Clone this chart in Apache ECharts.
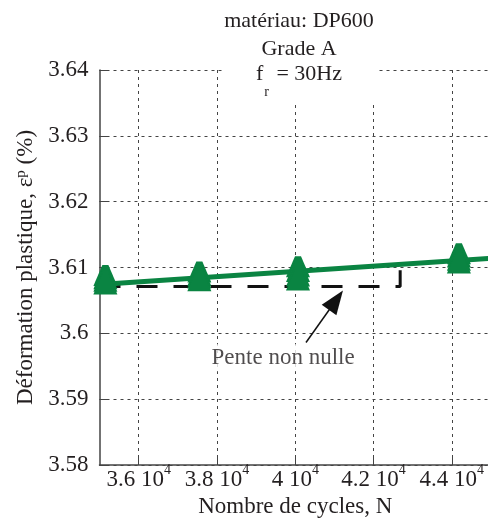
<!DOCTYPE html>
<html><head><meta charset="utf-8">
<script src="https://cdn.jsdelivr.net/npm/echarts@6/dist/echarts.min.js"></script>
<style>html,body{margin:0;padding:0;background:#fff}#c{width:488px;height:520px}</style>
</head><body><div id="c"></div>
<script>
// ---- data ----
const xTicks = [36000, 38000, 40000, 42000, 44000];
const xTickLabels = ['3.6', '3.8', '4', '4.2', '4.4'];
const groupCycles = [35150, 37550, 40070, 44180];
const strainRun1 = [3.6088, 3.6093, 3.6101, 3.6121];
const strainRun2 = [3.6083, 3.6088, 3.6094, 3.6116];
const strainRun3 = [3.6079, 3.6084, 3.6087, 3.6111];
const strainRun4 = [3.6075, 3.6080, 3.6081, 3.6107];
const fitCycles = [35000, 45000];
const fitStrain = [3.6074, 3.6114];
const refCycles = [35000, 42680, 42680];
const refStrain = [3.6071, 3.6071, 3.6103];
const arrowCycles = [40275, 41041];
const arrowStrain = [3.5986, 3.60502];
const noteCycles = [39690];
const noteStrain = [3.5963];
const noteText = 'Pente non nulle';

const FONT = 'Liberation Serif';
const TXT = '#231f20';
const GREEN = '#0a8442';
const AXF = 23;

const pts = [];
[strainRun1, strainRun2, strainRun3, strainRun4].forEach(run => {
  run.forEach((v, i) => pts.push([groupCycles[i], v]));
});

const chart = echarts.init(document.getElementById('c'), null, {renderer: 'canvas'});
chart.setOption({
  animation: false,
  backgroundColor: '#fff',
  title: {
    text: 'matériau: DP600\nGrade A\n{f|f}{sub|r}{t| = 30Hz}',
    left: 297, top: 7, textAlign: 'center',
    padding: [0, 5, 4, 2],
    backgroundColor: '#fff',
    textStyle: {
      fontFamily: FONT, fontSize: 22, fontWeight: 'normal', color: TXT, lineHeight: 28,
      rich: {
        f: {fontFamily: FONT, fontSize: 22, color: TXT, lineHeight: 28, verticalAlign: 'top'},
        t: {fontFamily: FONT, fontSize: 22, color: TXT, lineHeight: 28, verticalAlign: 'top', padding: [0, 0, 0, 2]},
        sub: {fontFamily: FONT, fontSize: 14, color: TXT, lineHeight: 14, padding: [22, 0, 0, 1], verticalAlign: 'top'}
      }
    }
  },
  grid: {left: 99.5, right: -3, top: 70, bottom: 55, outerBoundsMode: 'none', containLabel: false},
  xAxis: {
    type: 'value', min: 35000, max: 45000,
    name: 'Nombre de cycles, N', nameLocation: 'middle', nameGap: 27,
    nameTextStyle: {fontFamily: FONT, fontSize: AXF, color: TXT},
    axisLine: {show: true, lineStyle: {color: '#444', width: 1.5}},
    axisTick: {show: true, inside: true, length: 9, customValues: xTicks, lineStyle: {color: '#444', width: 1}},
    axisLabel: {
      customValues: xTicks, margin: -2,
      formatter: v => '{a|' + xTickLabels[xTicks.indexOf(v)] + ' 10}{s|4}',
      rich: {
        a: {fontFamily: FONT, fontSize: AXF, color: TXT, lineHeight: 23, padding: [5, 0, 0, 0], verticalAlign: 'top'},
        s: {fontFamily: FONT, fontSize: 14, color: TXT, lineHeight: 14, verticalAlign: 'top'}
      }
    },
    splitLine: {show: true, lineStyle: {color: '#444', width: 1, type: [3, 4]}}
  },
  yAxis: {
    type: 'value', min: 3.58, max: 3.64, interval: 0.01,
    name: 'Déformation plastique, ε{s|p} (%)', nameLocation: 'middle', nameGap: 57,
    nameTextStyle: {fontFamily: FONT, fontSize: AXF, color: TXT,
      rich: {s: {fontFamily: FONT, fontSize: 15, color: TXT, padding: [0, 0, 10, 0]}}},
    axisLine: {show: true, lineStyle: {color: '#444', width: 1.5}},
    axisTick: {show: true, inside: true, length: 9, lineStyle: {color: '#444', width: 1}},
    axisLabel: {fontFamily: FONT, fontSize: AXF, color: TXT, margin: 11},
    splitLine: {show: true, lineStyle: {color: '#444', width: 1, type: [3, 4]}}
  },
  series: [
    {
      type: 'line', z: 2, symbol: 'none', silent: true,
      data: refCycles.map((x, i) => [x, refStrain[i]]),
      lineStyle: {color: '#111', width: 3, type: [21, 16]}
    },
    {
      type: 'line', z: 3, symbol: 'none', silent: true,
      data: fitCycles.map((x, i) => [x, fitStrain[i]]),
      lineStyle: {color: GREEN, width: 5}
    },
    {
      type: 'scatter', z: 4, clip: false,
      symbol: 'path://M9,0 L15,0 L24,21 L0,21 Z', symbolSize: [24, 21],
      itemStyle: {color: GREEN, opacity: 1},
      data: pts
    },
    {
      type: 'scatter', z: 5, symbolSize: 0, silent: true,
      data: noteCycles.map((x, i) => [x, noteStrain[i]]),
      label: {show: true, position: 'inside', formatter: noteText,
        fontFamily: FONT, fontSize: AXF, color: TXT, backgroundColor: '#fff', padding: [2, 3]},
      markLine: {
        silent: true, symbol: ['none', 'triangle'], symbolSize: [18, 24],
        label: {show: false},
        lineStyle: {color: '#111', width: 1.5, type: 'solid'},
        data: [[{coord: [arrowCycles[0], arrowStrain[0]]}, {coord: [arrowCycles[1], arrowStrain[1]]}]]
      }
    }
  ]
});
</script></body></html>
